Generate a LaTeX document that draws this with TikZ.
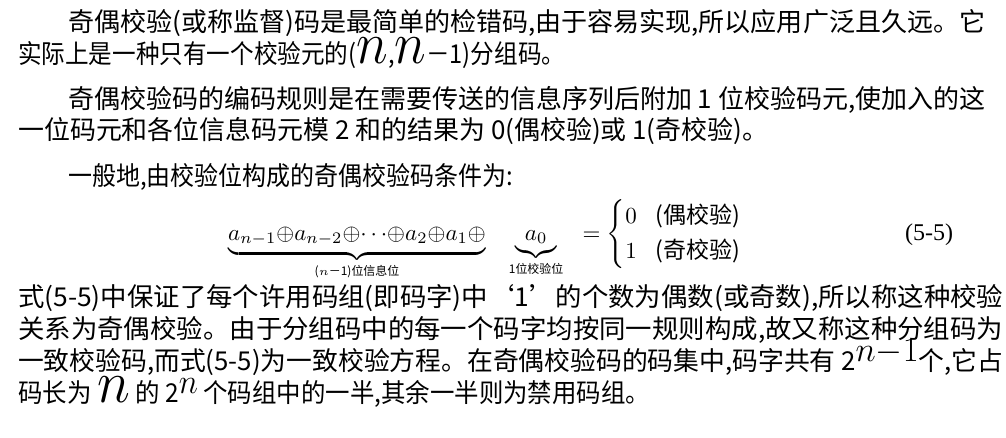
\documentclass[tikz,border=0pt]{standalone}
\usepackage{fontspec}
\usepackage{amsmath}
\setmainfont{Liberation Serif}
\newfontfamily\cjk{Noto Sans CJK SC}
\tikzset{ln/.style={anchor=base west,inner sep=0pt,font=\cjk\fontsize{26}{28}\selectfont}}
\newcommand{\fm}[1]{\resizebox{985pt}{\height}{#1}}
\newcommand{\mi}[1]{\scalebox{2.4}{$#1$}}
\begin{document}
\begin{tikzpicture}[x=1pt,y=-1pt]
\useasboundingbox (0,0) rectangle (1006,437);
\node[ln] (l1) at (68,31) {\resizebox{917pt}{\height}{奇偶校验(或称监督)码是最简单的检错码,由于容易实现,所以应用广泛且久远。它}};
\node[ln] (l2) at (18,63) {\resizebox{547pt}{\height}{实际上是一种只有一个校验元的(\mi{n},\mi{n}－1)分组码。}};
\node[ln] (l3) at (68,108) {\resizebox{917pt}{\height}{奇偶校验码的编码规则是在需要传送的信息序列后附加 1 位校验码元,使加入的这}};
\node[ln] (l4) at (18,139) {\resizebox{750pt}{\height}{一位码元和各位信息码元模 2 和的结果为 0(偶校验)或 1(奇校验)。}};
\node[ln] (l5) at (68,185) {\resizebox{445pt}{\height}{一般地,由校验位构成的奇偶校验码条件为:}};
\node[anchor=base west,inner sep=0pt] (f) at (228,240)
 {\scalebox{2.3}{$\underbrace{a_{n-1}{\oplus}a_{n-2}{\oplus}{\cdots}{\oplus}a_2{\oplus}a_1{\oplus}}_{\text{\cjk\fontsize{5.2}{6}\selectfont($n$－1)位信息位}}\;\;\;\underbrace{a_0}_{\text{\cjk\fontsize{5.2}{6}\selectfont 1位校验位}}\;\;=\begin{cases}0\;\;\;\text{\cjk\fontsize{10}{11}\selectfont(偶校验)}\\[1pt]1\;\;\;\text{\cjk\fontsize{10}{11}\selectfont(奇校验)}\end{cases}$}};
\node[ln,font=\fontsize{24}{26}\selectfont] (eq) at (905,240) {(5-5)};
\node[ln] (l6) at (18,306) {\fm{式(5-5)中保证了每个许用码组(即码字)中‘1’的个数为偶数(或奇数),所以称这种校验}};
\node[ln] (l7) at (18,338) {\fm{关系为奇偶校验。由于分组码中的每一个码字均按同一规则构成,故又称这种分组码为}};
\node[ln] (l8) at (18,370) {\fm{一致校验码,而式(5-5)为一致校验方程。在奇偶校验码的码集中,码字共有 2\raisebox{9pt}{\scalebox{1.4}{$n{-}1$}}个,它占}};
\node[ln] (l9) at (18,402) {\resizebox{632pt}{\height}{码长为 \mi{n} 的 2\raisebox{9pt}{\scalebox{1.4}{$n$}} 个码组中的一半,其余一半则为禁用码组。}};
\end{tikzpicture}
\end{document}
